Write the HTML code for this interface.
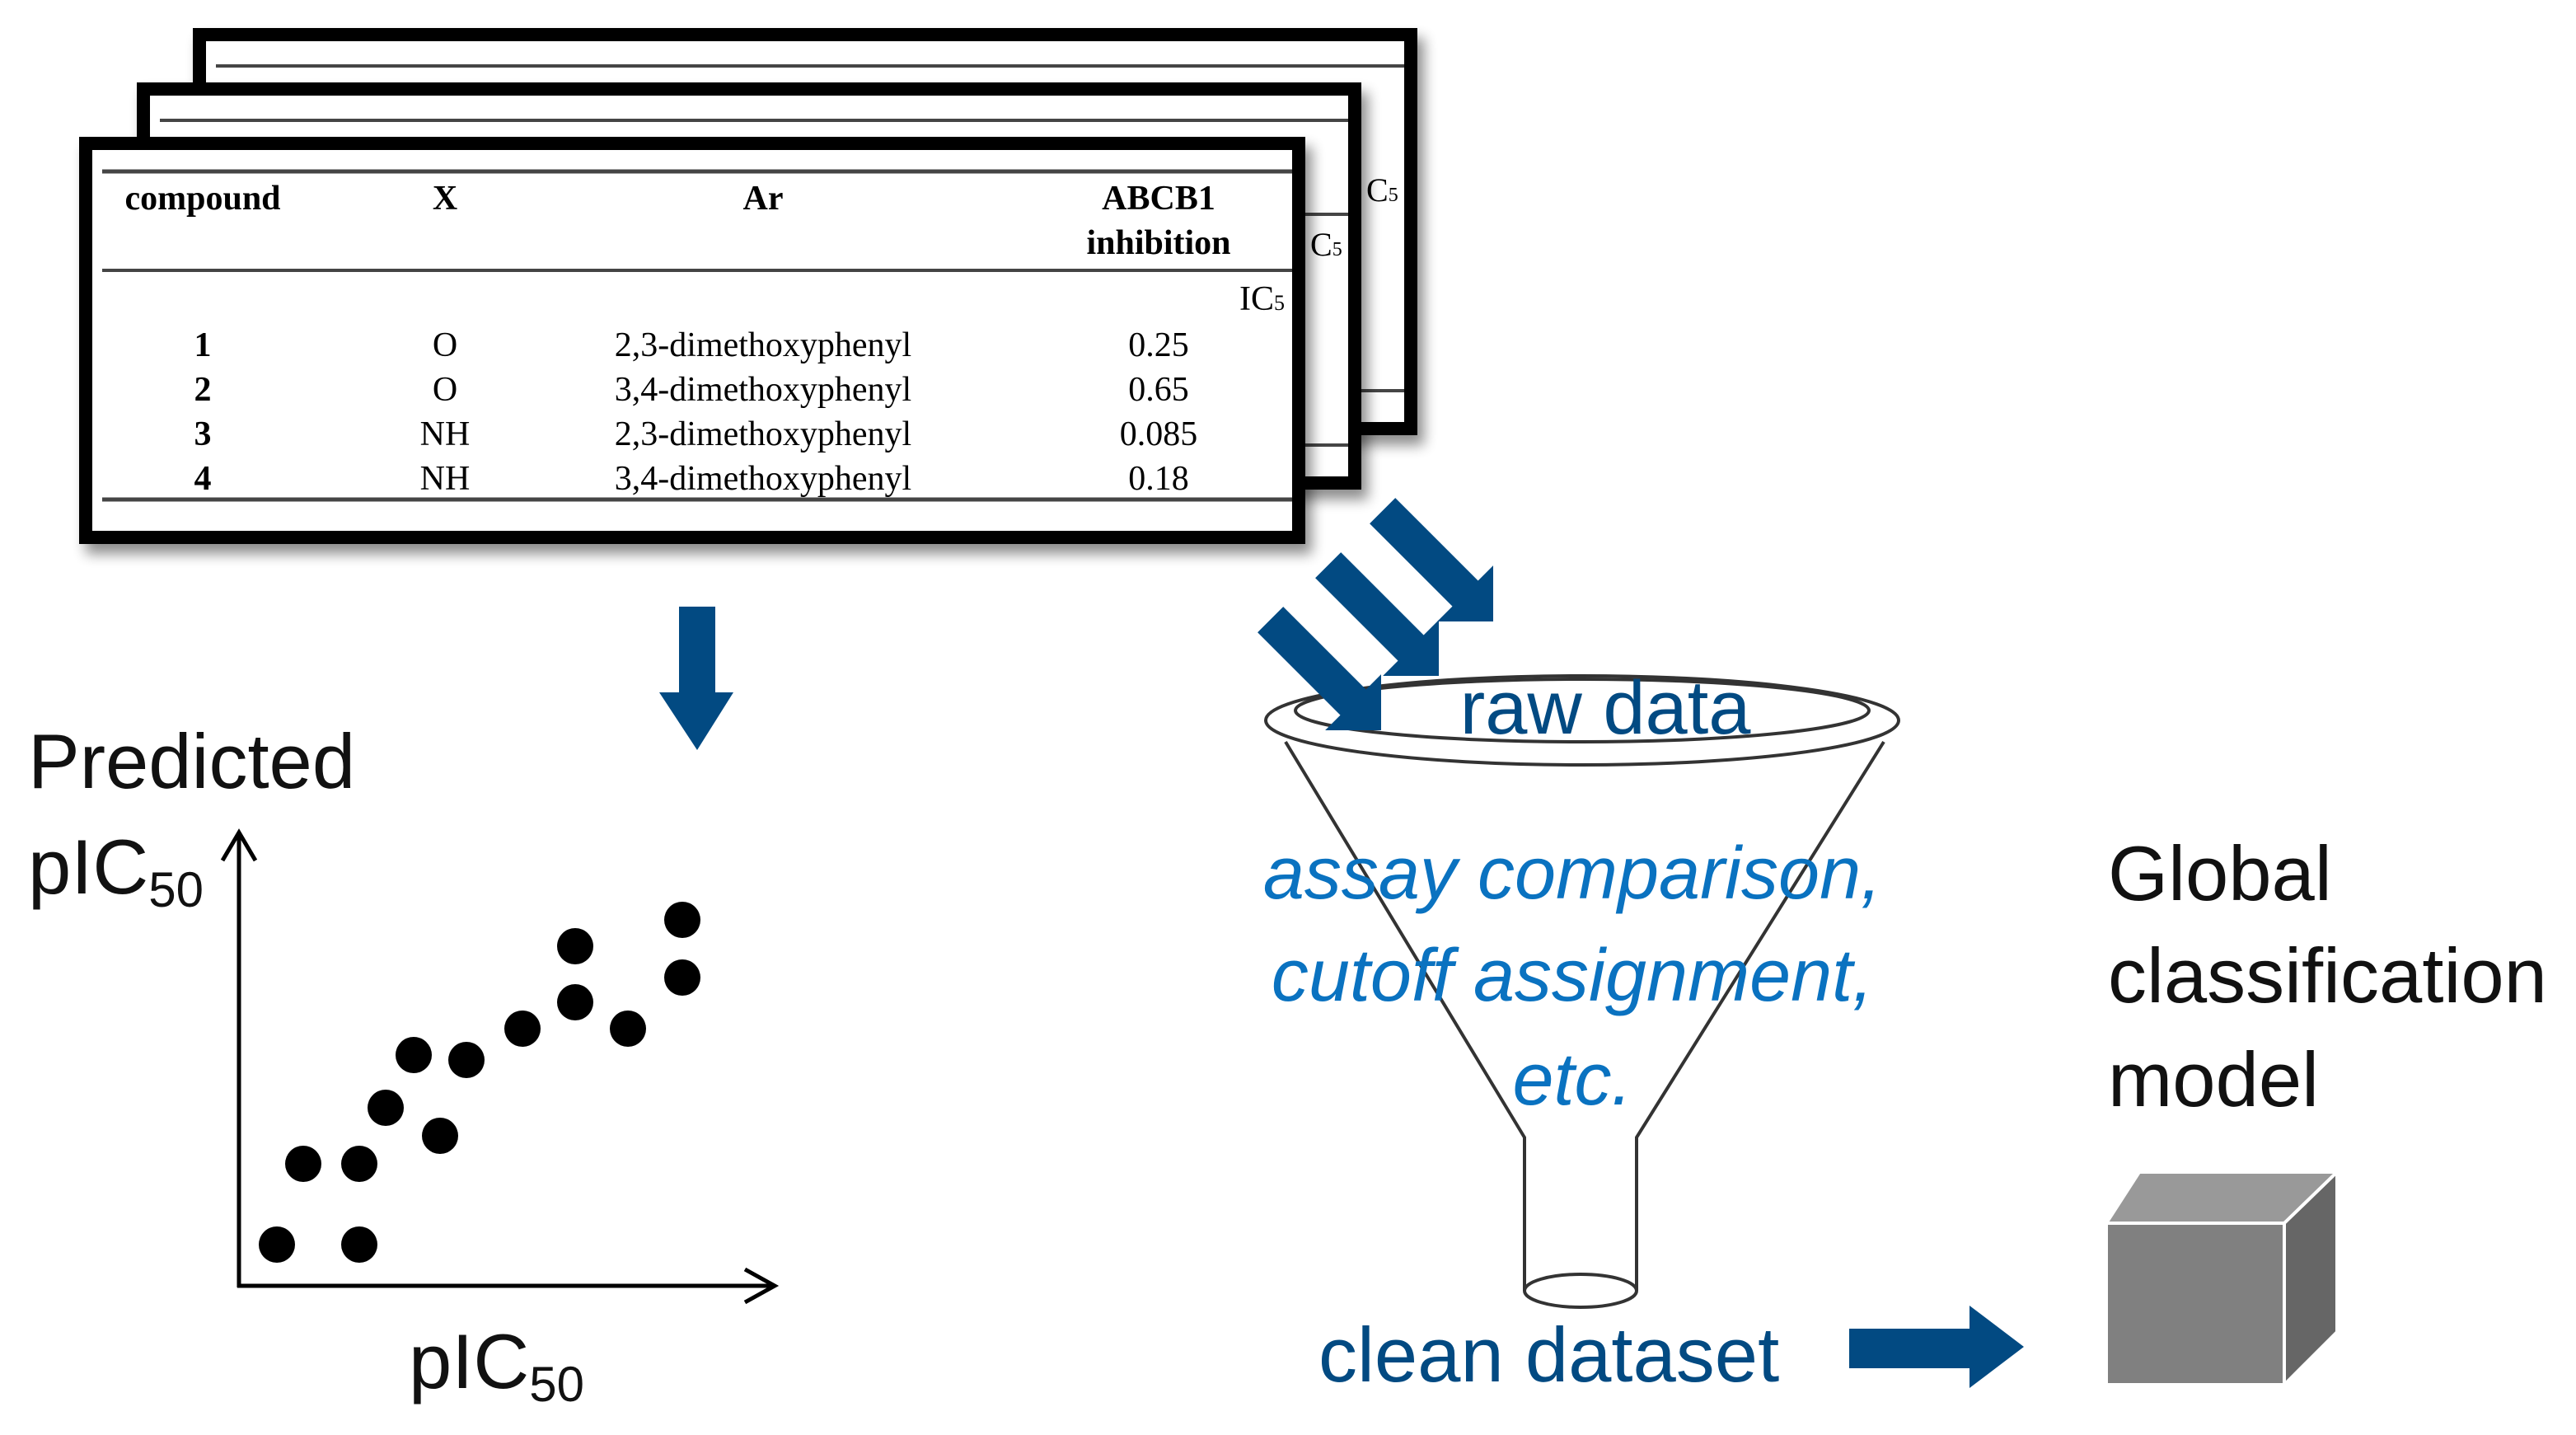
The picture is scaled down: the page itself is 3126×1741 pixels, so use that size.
<!DOCTYPE html>
<html><head><meta charset="utf-8"><style>
html,body{margin:0;padding:0;background:#fff;}
svg{display:block;}
.ser{font-family:"Liberation Serif",serif;}
.san{font-family:"Liberation Sans",sans-serif;}
</style></head><body>
<svg width="3126" height="1741" viewBox="0 0 1563 870.5" xmlns="http://www.w3.org/2000/svg">
<defs>
<filter id="sh" x="-10%" y="-10%" width="130%" height="140%"><feGaussianBlur in="SourceAlpha" stdDeviation="4"/><feOffset dx="4" dy="6"/><feComponentTransfer><feFuncA type="linear" slope="0.45"/></feComponentTransfer><feMerge><feMergeNode/><feMergeNode in="SourceGraphic"/></feMerge></filter>
</defs>
<g filter="url(#sh)">
<rect x="121" y="21" width="735" height="239" fill="#fff" stroke="#000" stroke-width="8"/>
<line x1="131" y1="40" x2="852" y2="40" stroke="#444" stroke-width="2"/>
<text x="829" y="122" class="ser" font-size="20">C<tspan font-size="12">5</tspan></text>
<line x1="826" y1="237" x2="852" y2="237" stroke="#444" stroke-width="2"/>
</g>
<g filter="url(#sh)">
<rect x="87" y="54" width="735" height="239" fill="#fff" stroke="#000" stroke-width="8"/>
<line x1="97" y1="73" x2="818" y2="73" stroke="#444" stroke-width="2"/>
<line x1="792" y1="130" x2="818" y2="130" stroke="#444" stroke-width="2"/>
<text x="795" y="155" class="ser" font-size="20">C<tspan font-size="12">5</tspan></text>
<line x1="792" y1="270" x2="818" y2="270" stroke="#444" stroke-width="2"/>
</g>
<g filter="url(#sh)">
<rect x="52" y="87" width="736" height="239" fill="#fff" stroke="#000" stroke-width="8"/>
<line x1="62" y1="104" x2="784" y2="104" stroke="#444" stroke-width="2.5"/>
<line x1="62" y1="164" x2="784" y2="164" stroke="#444" stroke-width="2"/>
<line x1="62" y1="303" x2="784" y2="303" stroke="#444" stroke-width="2.5"/>
<g class="ser" font-size="21" font-weight="bold" text-anchor="middle">
<text x="123" y="127">compound</text><text x="270" y="127">X</text><text x="463" y="127">Ar</text>
<text x="703" y="127">ABCB1</text><text x="703" y="154">inhibition</text>
<text x="123" y="216">1</text><text x="123" y="243">2</text><text x="123" y="270">3</text><text x="123" y="297">4</text>
</g>
<text x="752" y="188" class="ser" font-size="21">IC<tspan font-size="13">5</tspan></text>
<g class="ser" font-size="21" text-anchor="middle">
<text x="270" y="216">O</text><text x="270" y="243">O</text><text x="270" y="270">NH</text><text x="270" y="297">NH</text>
<text x="463" y="216">2,3-dimethoxyphenyl</text><text x="463" y="243">3,4-dimethoxyphenyl</text><text x="463" y="270">2,3-dimethoxyphenyl</text><text x="463" y="297">3,4-dimethoxyphenyl</text>
<text x="703" y="216">0.25</text><text x="703" y="243">0.65</text><text x="703" y="270">0.085</text><text x="703" y="297">0.18</text>
</g>
</g>
<polygon points="412,368 434,368 434,420 445,420 423,455 400,420 412,420" fill="#024a82"/>
<g stroke="#000" stroke-width="2.5" fill="none">
<line x1="145" y1="505" x2="145" y2="781"/><line x1="144" y1="780" x2="470" y2="780"/>
<polyline points="135,522 145,505 155,522"/><polyline points="452,770 470,780 452,790"/>
</g>
<g fill="#000">
<circle cx="168" cy="755" r="11"/><circle cx="218" cy="755" r="11"/><circle cx="184" cy="706" r="11"/><circle cx="218" cy="706" r="11"/>
<circle cx="234" cy="672" r="11"/><circle cx="267" cy="689" r="11"/><circle cx="251" cy="640" r="11"/><circle cx="283" cy="643" r="11"/>
<circle cx="317" cy="624" r="11"/><circle cx="349" cy="608" r="11"/><circle cx="349" cy="574" r="11"/><circle cx="381" cy="624" r="11"/>
<circle cx="414" cy="558" r="11"/><circle cx="414" cy="593" r="11"/>
</g>
<g class="san" font-size="47" fill="#111">
<text x="17" y="478">Predicted</text>
<text x="17" y="542">pIC<tspan font-size="30" dy="8">50</tspan></text>
<text x="248" y="842">pIC<tspan font-size="30" dy="8">50</tspan></text>
</g>
<g fill="none" stroke="#333" stroke-width="2">
<ellipse cx="960" cy="437" rx="192" ry="27"/>
<ellipse cx="960" cy="431" rx="174" ry="19"/>
<path d="M780,450 L925,690 L925,783 M1143,450 L993,690 L993,783"/>
<ellipse cx="959" cy="783" rx="34" ry="10"/>
</g>
<g fill="#024a82">
<g transform="translate(906,377) rotate(45)"><polygon points="-95,-11 -24,-11 -24,-24 0,0 -24,24 -24,11 -95,11"/></g>
<g transform="translate(873,410) rotate(45)"><polygon points="-95,-11 -24,-11 -24,-24 0,0 -24,24 -24,11 -95,11"/></g>
<g transform="translate(838,443) rotate(45)"><polygon points="-95,-11 -24,-11 -24,-24 0,0 -24,24 -24,11 -95,11"/></g>
</g>
<text x="974" y="445" class="san" font-size="46" fill="#024a82" text-anchor="middle">raw data</text>
<g class="san" font-size="45" font-style="italic" fill="#0a72c0" text-anchor="middle">
<text x="954" y="545">assay comparison,</text>
<text x="954" y="607">cutoff assignment,</text>
<text x="954" y="670">etc.</text>
</g>
<text x="800" y="838" class="san" font-size="47" fill="#024a82">clean dataset</text>
<polygon points="1122,806 1195,806 1195,792 1228,817 1195,842 1195,830 1122,830" fill="#024a82"/>
<g class="san" font-size="47" fill="#111">
<text x="1279" y="546">Global</text>
<text x="1279" y="608">classification</text>
<text x="1279" y="671">model</text>
</g>
<g stroke="#fff" stroke-width="2">
<polygon points="1278,742 1298,711 1418,711 1386,742" fill="#999"/>
<polygon points="1386,742 1418,711 1418,808 1386,840" fill="#666"/>
<rect x="1278" y="742" width="108" height="98" fill="#808080"/>
</g>
</svg>
</body></html>
